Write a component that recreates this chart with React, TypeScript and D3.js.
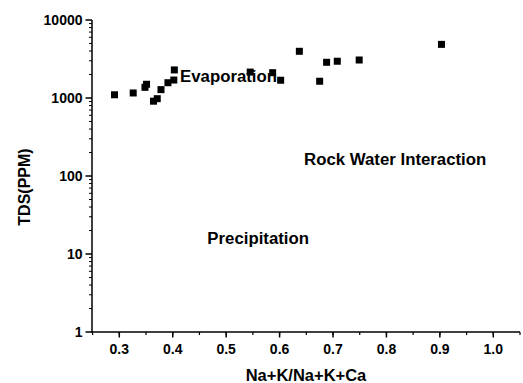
import React from "react";
import * as d3 from "d3";

// Na+K/(Na+K+Ca) ratio vs TDS (ppm)
const ratio = [
  0.291, 0.326, 0.348, 0.351, 0.364, 0.371, 0.378, 0.391, 0.402, 0.403,
  0.545, 0.587, 0.602, 0.637, 0.675, 0.688, 0.708, 0.749, 0.903,
];
const tds = [
  1100, 1160, 1370, 1500, 910, 980, 1280, 1570, 1700, 2290,
  2150, 2110, 1690, 3970, 1640, 2870, 2960, 3070, 4870,
];

const xTicks = [0.3, 0.4, 0.5, 0.6, 0.7, 0.8, 0.9, 1.0];
const yTicks = [1, 10, 100, 1000, 10000];

const zones = [
  { label: "Evaporation", x: 0.4137, y: 1600 },
  { label: "Rock Water Interaction", x: 0.6459, y: 138 },
  { label: "Precipitation", x: 0.4648, y: 13.4 },
];

const W = 523;
const H = 383;
const FONT = "'Liberation Sans', Arial, sans-serif";

export default function App() {
  const x = d3.scaleLinear().domain([0.25, 1.05]).range([92.6, 520]);
  const y = d3.scaleLog().domain([1, 10000]).range([332, 20]);

  const x0 = x.range()[0] - 0.6;
  const y0 = y.range()[0];

  const xMinor = d3.range(0.25, 1.06, 0.05).map((v) => +v.toFixed(2));
  const yMinor: number[] = [];
  for (let d = 1; d < 10000; d *= 10) {
    for (let k = 2; k <= 9; k++) yMinor.push(d * k);
  }

  return (
    <svg
      width={W}
      height={H}
      style={{ position: "absolute", left: 0, top: 0, background: "#fff" }}
      fontFamily={FONT}
      fontWeight="bold"
    >
      {/* axes */}
      <line x1={x0} x2={x0} y1={y.range()[1]} y2={y0 + 0.75} stroke="#000" strokeWidth={1.5} />
      <line x1={x0} x2={x.range()[1]} y1={y0} y2={y0} stroke="#000" strokeWidth={1.5} />

      {xMinor.map((v) => (
        <line key={"xm" + v} x1={x(v)} x2={x(v)} y1={y0} y2={y0 + 3} stroke="#000" strokeWidth={1.2} />
      ))}
      {xTicks.map((v) => (
        <g key={"x" + v}>
          <line x1={x(v)} x2={x(v)} y1={y0} y2={y0 + 5.5} stroke="#000" strokeWidth={1.5} />
          <text x={x(v)} y={354} textAnchor="middle" fontSize={14}>
            {v.toFixed(1)}
          </text>
        </g>
      ))}

      {yMinor.map((v) => (
        <line key={"ym" + v} x1={x0 - 3} x2={x0} y1={y(v)} y2={y(v)} stroke="#000" strokeWidth={1} />
      ))}
      {yTicks.map((v) => (
        <g key={"y" + v}>
          <line x1={x0 - 6.5} x2={x0} y1={y(v)} y2={y(v)} stroke="#000" strokeWidth={1.5} />
          <text x={x0 - 9.5} y={y(v)} dy="0.36em" textAnchor="end" fontSize={14}>
            {v}
          </text>
        </g>
      ))}

      {/* axis titles */}
      <text x={306} y={381} textAnchor="middle" fontSize={16.5}>
        Na+K/Na+K+Ca
      </text>
      <text
        transform="translate(30,187) rotate(-90)"
        textAnchor="middle"
        fontSize={16}
      >
        TDS(PPM)
      </text>

      {/* zone labels */}
      {zones.map((z) => (
        <text key={z.label} x={x(z.x)} y={y(z.y)} fontSize={16.8}>
          {z.label}
        </text>
      ))}

      {/* points */}
      {ratio.map((r, i) => (
        <rect key={i} x={x(r) - 3.5} y={y(tds[i]) - 3.5} width={7} height={7} fill="#000" />
      ))}
    </svg>
  );
}
